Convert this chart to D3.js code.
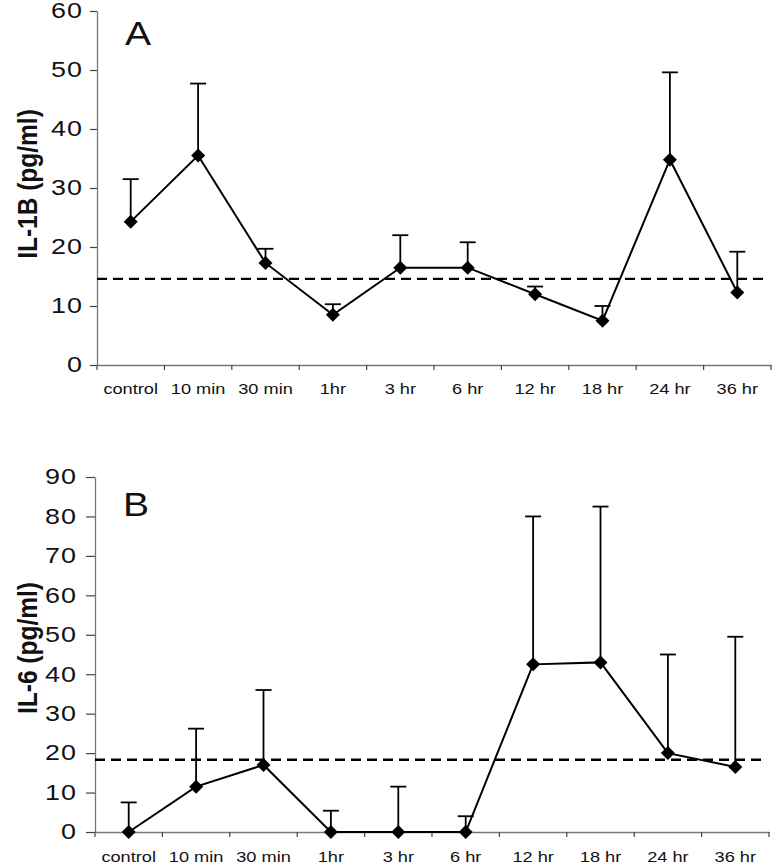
<!DOCTYPE html>
<html>
<head>
<meta charset="utf-8">
<script src="https://cdn.jsdelivr.net/npm/d3@7"></script>
<style>
  body { margin: 0; background: #fff; }
  svg { display: block; font-family: "Liberation Sans", Arial, sans-serif; }
</style>
</head>
<body>
<svg width="773" height="865"></svg>
<script>
// categories shared by both panels
const categories = ["control", "10 min", "30 min", "1hr", "3 hr", "6 hr", "12 hr", "18 hr", "24 hr", "36 hr"];

// panel A: IL-1B
const il1bMean = [24.3, 35.5, 17.3, 8.5, 16.5, 16.5, 12.0, 7.5, 34.8, 12.3];
const il1bUpper = [31.5, 47.7, 19.7, 10.3, 22.0, 20.8, 13.3, 10.0, 49.6, 19.2];
const il1bBaseline = 14.6;
const il1bTicks = [0, 10, 20, 30, 40, 50, 60];

// panel B: IL-6
const il6Mean = [0, 11.5, 17.0, 0, 0, 0, 42.5, 43.0, 20.0, 16.5];
const il6Upper = [7.5, 26.2, 36.0, 5.4, 11.5, 4.0, 80.0, 82.5, 45.0, 49.5];
const il6Baseline = 18.3;
const il6Ticks = [0, 10, 20, 30, 40, 50, 60, 70, 80, 90];

const svg = d3.select("svg");
const stretch = 1.25; // the original artwork is drawn a bit wide

function panel(opts) {
  const g = svg.append("g");

  const x = d3.scaleBand()
    .domain(categories)
    .range([opts.left, opts.right]);

  const y = d3.scaleLinear()
    .domain([0, d3.max(opts.ticks)])
    .range([opts.bottom, opts.top]);

  // x axis
  const xAxis = g.append("g")
    .attr("transform", `translate(0,${opts.bottom})`)
    .call(d3.axisBottom(x).tickSize(0).tickPadding(0).tickFormat(""));
  xAxis.select(".domain").attr("stroke", "#777").attr("stroke-width", 1.3);
  // category boundary ticks
  g.selectAll(".xt")
    .data(d3.range(categories.length + 1))
    .join("line")
    .attr("x1", i => opts.left + i * x.step())
    .attr("x2", i => opts.left + i * x.step())
    .attr("y1", opts.bottom)
    .attr("y2", opts.bottom + 5)
    .attr("stroke", "#444")
    .attr("stroke-width", 1.2);
  g.selectAll(".xl")
    .data(categories)
    .join("text")
    .attr("transform", d => `translate(${x(d) + x.bandwidth() / 2},${opts.bottom + opts.labelDy}) scale(1.3,1)`)
    .attr("text-anchor", "middle")
    .attr("font-size", 14)
    .attr("fill", "#111")
    .text(d => d);

  // y axis
  const yAxis = g.append("g")
    .attr("transform", `translate(${opts.left},0)`)
    .call(d3.axisLeft(y).tickValues(opts.ticks).tickSize(opts.tickLen).tickSizeOuter(0));
  yAxis.select(".domain").attr("stroke", "#777").attr("stroke-width", 1.3);
  yAxis.selectAll(".tick line").attr("stroke", "#444").attr("stroke-width", 1.2);
  yAxis.selectAll(".tick text")
    .attr("x", 0)
    .attr("transform", `translate(${-opts.labelPad},0) scale(${stretch},1)`)
    .attr("font-size", 21.5)
    .attr("letter-spacing", 0.8)
    .attr("fill", "#111")
    .attr("font-family", "Liberation Sans, Arial, sans-serif");

  // y title
  g.append("text")
    .attr("transform", `translate(37,${opts.titleY}) scale(1.15,1) rotate(-90)`)
    .attr("text-anchor", "middle")
    .attr("font-size", 24.5)
    .attr("font-weight", "bold")
    .attr("fill", "#111")
    .text(opts.title);

  // panel letter
  g.append("text")
    .attr("transform", `translate(${opts.left + 28},${opts.letterY}) scale(1.15,1)`)
    .attr("font-size", 34)
    .attr("fill", "#111")
    .text(opts.letter);

  // dashed baseline
  g.append("line")
    .attr("x1", opts.left)
    .attr("x2", opts.right - 5)
    .attr("y1", y(opts.baseline))
    .attr("y2", y(opts.baseline))
    .attr("stroke", "#000")
    .attr("stroke-width", 2.4)
    .attr("stroke-dasharray", "10,6");

  const cx = d => x(d) + x.bandwidth() / 2;

  // error bars (upper only)
  g.selectAll(".eb")
    .data(categories)
    .join("line")
    .attr("x1", cx).attr("x2", cx)
    .attr("y1", (d, i) => y(opts.mean[i]))
    .attr("y2", (d, i) => y(opts.upper[i]))
    .attr("stroke", "#000")
    .attr("stroke-width", 1.8);
  g.selectAll(".cap")
    .data(categories)
    .join("line")
    .attr("x1", d => cx(d) - 8).attr("x2", d => cx(d) + 8)
    .attr("y1", (d, i) => y(opts.upper[i]))
    .attr("y2", (d, i) => y(opts.upper[i]))
    .attr("stroke", "#000")
    .attr("stroke-width", 1.8);

  // line
  const line = d3.line()
    .x((d, i) => cx(categories[i]))
    .y(d => y(d));
  g.append("path")
    .datum(opts.mean)
    .attr("fill", "none")
    .attr("stroke", "#000")
    .attr("stroke-width", 2)
    .attr("d", line);

  // diamond markers
  g.selectAll(".pt")
    .data(opts.mean)
    .join("path")
    .attr("transform", (d, i) => `translate(${cx(categories[i])},${y(d)})`)
    .attr("d", "M0,-7L7,0L0,7L-7,0Z")
    .attr("fill", "#000");
}

panel({
  left: 97, right: 771, top: 11, bottom: 365,
  mean: il1bMean, upper: il1bUpper, baseline: il1bBaseline, ticks: il1bTicks,
  title: "IL-1B (pg/ml)", titleY: 184, letter: "A", letterY: 45, labelDy: 29,
  tickLen: 7, labelPad: 14
});

panel({
  left: 95, right: 769, top: 477, bottom: 832,
  mean: il6Mean, upper: il6Upper, baseline: il6Baseline, ticks: il6Ticks,
  title: "IL-6 (pg/ml)", titleY: 648, letter: "B", letterY: 516, labelDy: 30,
  tickLen: 9, labelPad: 18
});
</script>
</body>
</html>
